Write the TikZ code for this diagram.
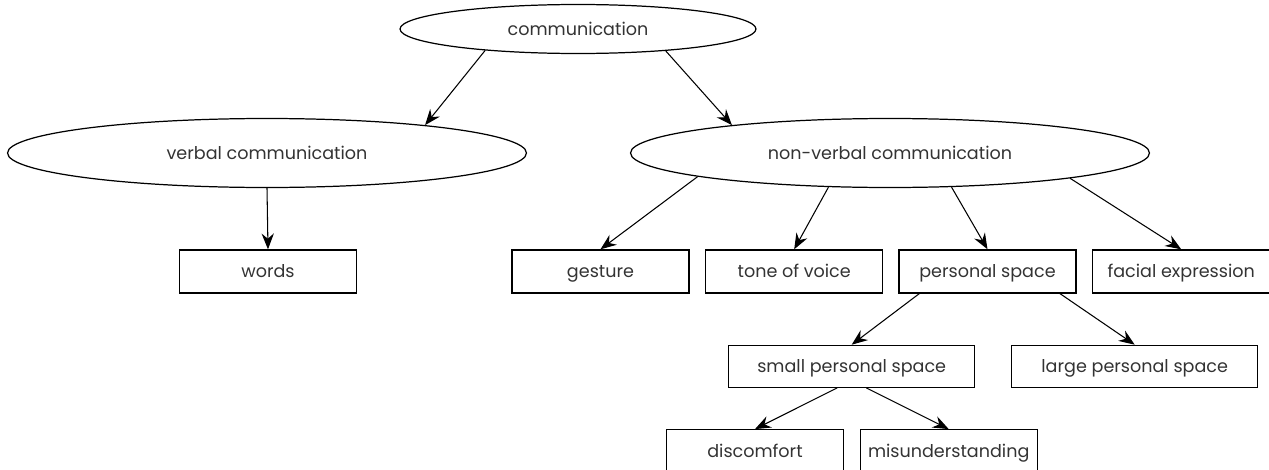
\documentclass[tikz,border=0pt]{standalone}
\usepackage{fontspec}
\setmainfont{Poppins}
\usepackage{xcolor}
\usepackage{tikz}
\usetikzlibrary{shapes.geometric,arrows.meta}

\begin{document}
\begin{tikzpicture}[x=0.02cm,y=-0.02cm,
		font=\fontsize{10pt}{12pt}\selectfont, text=black!80,
		oval/.style = {ellipse, draw, line width=0.7pt, inner sep=0pt, minimum height=1.38cm, text height=1.8ex, text depth=0.5ex},
		box/.style = {rectangle, draw, line width=0.7pt, inner sep=0pt, minimum width=3.54cm, minimum height=0.86cm, text height=1.8ex, text depth=0.5ex},
		wide/.style = {box, minimum width=4.92cm},
		arr/.style = {-{Stealth[length=9pt,width=7pt,inset=3pt]}, line width=0.6pt}]
	\useasboundingbox (0,0) rectangle (1269,470);
	\node[oval, minimum width=7.12cm, minimum height=0.98cm] (comm) at (578, 29) {communication};
	\node[oval, minimum width=10.38cm] (verb) at (267, 153) {verbal communication};
	\node[oval, minimum width=10.38cm] (nonverb) at (890, 153) {non-verbal communication};
	
	\node[box] (words) at (268, 271.4) {words};
	\node[box] (gest) at (600.5, 271.4) {gesture};
	\node[box] (tone) at (794.2, 271.4) {tone of voice};
	\node[box] (pers) at (987.5, 271.4) {personal space};
	\node[box] (facial) at (1181.2, 271.4) {facial expression};
	
	\node[wide, minimum height=0.84cm] (small) at (851.7, 366.3) {small personal space};
	\node[wide, minimum height=0.84cm] (large) at (1134.7, 366.3) {large personal space};
	
	\node[box] (disc) at (755, 451.2) {discomfort};
	\node[box] (misund) at (948.7, 451.2) {misunderstanding};
	
	\draw[arr] (comm.193) to (verb.10.6);
	\draw[arr] (comm.346.5) to (nonverb.170.2);
	\draw[arr] (verb.south) to (words.north);
	\draw[arr] (nonverb.187.5) to (gest.north);
	\draw[arr] (nonverb.209.4) to (tone.north);
	\draw[arr] (nonverb.331.7) to (pers.north);
	\draw[arr] (nonverb.352.8) to (facial.north);
	\draw[arr] (pers.-162.3) to (small.north);
	\draw[arr] (pers.-17.8) to (large.north);
	\draw[arr] (small.236.3) to (disc.north);
	\draw[arr] (small.-56.3) to (misund.north);
\end{tikzpicture}
\end{document}
